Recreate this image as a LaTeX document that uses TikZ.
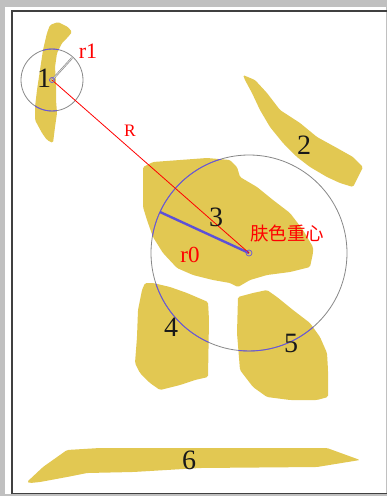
\documentclass[tikz,border=0pt]{standalone}
\usepackage{fontspec}
\newfontfamily\cjkfont{Noto Sans CJK SC}
\newfontfamily\labfont{Liberation Serif}
\definecolor{skin}{RGB}{226,200,82}
\definecolor{bggray}{RGB}{192,192,192}
\definecolor{framedark}{RGB}{64,64,64}
\definecolor{circgray}{RGB}{136,136,136}
\definecolor{circblue}{RGB}{104,84,220}
\definecolor{rblue}{RGB}{92,80,216}
\tikzset{
  blobfill/.style={fill=skin, rounded corners=1.5pt},
  circline/.style={draw=circgray, line width=0.8pt},
  circover/.style={draw=circblue, line width=0.9pt},
  numlabel/.style={text=black!90, font=\labfont\fontsize{28}{28}\selectfont, inner sep=0pt},
  redlabel/.style={text=red, inner sep=0pt},
  marker/.style={draw=circblue, line width=0.7pt}
}
\def\blobone{(50,25) -- (58,22) -- (68,27) -- (72,32) -- (68,37) -- (62,43) -- (57,53) -- (55,67) -- (56,83) -- (56,100) -- (57,113) -- (55,127) -- (53,143) -- (47,140) -- (42,133) -- (35,120) -- (35,107) -- (37,90) -- (40,70) -- (43,50) -- (47,33) -- cycle}
\def\blobtwo{(243,75) -- (255,80) -- (267,93) -- (280,110) -- (300,123) -- (317,137) -- (337,148) -- (353,157) -- (363,167) -- (358,177) -- (353,187) -- (340,183) -- (327,177) -- (310,167) -- (297,157) -- (283,143) -- (270,127) -- (260,110) -- (252,93) -- (245,80) -- cycle}
\def\blobthree{(143,167) -- (153,162) -- (180,160) -- (207,158) -- (230,160) -- (237,167) -- (240,177) -- (257,187) -- (273,200) -- (290,213) -- (303,230) -- (313,247) -- (313,253) -- (310,267) -- (290,272) -- (267,275) -- (250,280) -- (238,287) -- (230,283) -- (213,280) -- (193,275) -- (177,268) -- (163,253) -- (153,237) -- (147,220) -- (143,207) -- cycle}
\def\blobfour{(145,283) -- (153,283) -- (170,287) -- (187,293) -- (208,302) -- (209,320) -- (208,377) -- (195,380) -- (180,385) -- (160,390) -- (150,383) -- (140,373) -- (135,363) -- (137,337) -- (138,310) -- (142,290) -- cycle}
\def\blobfive{(238,297) -- (253,293) -- (267,290) -- (277,297) -- (293,310) -- (310,323) -- (320,337) -- (327,353) -- (328,370) -- (328,397) -- (317,400) -- (290,400) -- (267,397) -- (253,387) -- (240,370) -- (237,333) -- cycle}
\def\blobsix{(27,482) -- (43,467) -- (67,450) -- (100,448) -- (167,448) -- (327,448) -- (360,460) -- (317,467) -- (200,468) -- (133,472) -- (87,473) -- (67,477) -- (40,482) -- (30,483) -- cycle}
\begin{document}
\begin{tikzpicture}[x=1pt,y=-1pt]
\useasboundingbox (0,0) rectangle (387,496);
% window frame
\fill[bggray] (0,0) rectangle (387,496);
\fill[white] (5,7) rectangle (386,494);
\draw[framedark, line width=2pt] (12,494) -- (12,10.5) -- (387,10.5);
\draw[framedark, line width=1.5pt] (12,493.5) -- (387,493.5);
% skin regions
\fill[blobfill] \blobone;
\fill[blobfill] \blobtwo;
\fill[blobfill] \blobthree;
\fill[blobfill] \blobfour;
\fill[blobfill] \blobfive;
\fill[blobfill] \blobsix;
% centres
\coordinate (c1) at (52,80);
\coordinate (c0) at (249,253);
\coordinate (r1end) at (72,58);
\coordinate (r0end) at (160,212);
% circles (grey over background)
\draw[circline] (c1) circle[radius=31pt];
\draw[circline] (c0) circle[radius=98pt];
% circles (blue over skin)
\begin{scope}
  \clip[rounded corners=1.5pt] \blobone \blobthree \blobfour \blobfive;
  \draw[circover] (c1) circle[radius=31pt];
  \draw[circover] (c0) circle[radius=98pt];
\end{scope}
% radii
\draw[draw=circgray, double=gray!25, double distance=0.7pt, line width=0.6pt] (c1) -- (r1end);
\draw[rblue, line width=2.4pt] (c0) -- (r0end);
\draw[red, line width=0.8pt] (c1) -- (c0);
\draw[marker] (c1) circle[radius=2.5pt];
\draw[marker] (c0) circle[radius=3pt];
% labels
\node[numlabel] (n1) at (44,78) {1};
\node[numlabel] (n2) at (304,145) {2};
\node[numlabel] (n3) at (216,217) {3};
\node[numlabel] (n4) at (171,327) {4};
\node[numlabel] (n5) at (291,343) {5};
\node[numlabel] (n6) at (189,460) {6};
\node[redlabel, font=\labfont\fontsize{22}{22}\selectfont] (lr1) at (88,51) {r1};
\node[redlabel, font=\labfont\fontsize{17.5}{17.5}\selectfont] (lR) at (130,131) {R};
\node[redlabel, font=\labfont\fontsize{23}{23}\selectfont] (lr0) at (190,255) {r0};
\node[redlabel, font=\cjkfont\fontsize{18.5}{18.5}\selectfont] (lc) at (287,233) {肤色重心};
\end{tikzpicture}
\end{document}
